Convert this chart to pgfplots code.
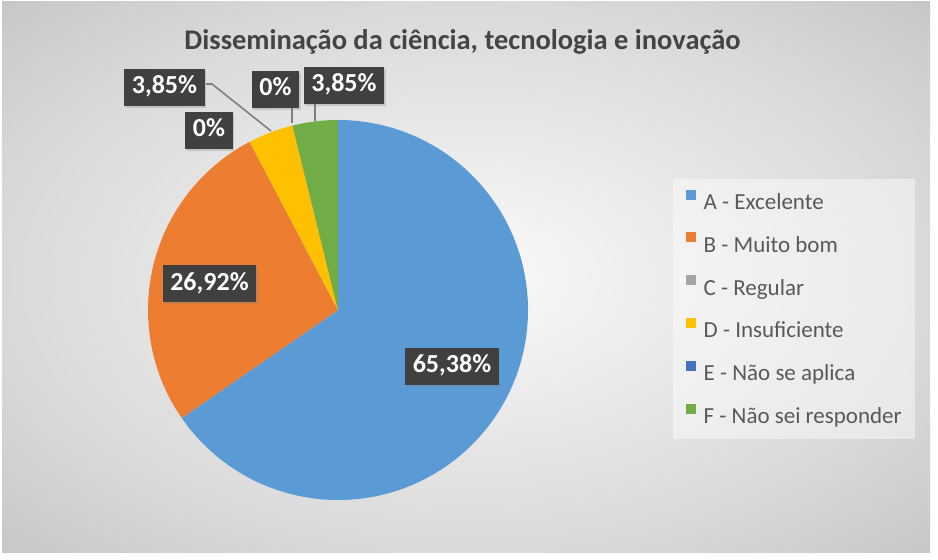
\documentclass[border=0pt]{standalone}
\usepackage{pgfplots}
\pgfplotsset{compat=1.18}
\usepackage{pgfplotstable}
\usepackage{fontspec}
\setmainfont{Carlito}
\usetikzlibrary{shadows}

\definecolor{c0}{HTML}{5B9BD5}
\definecolor{c1}{HTML}{ED7D31}
\definecolor{c2}{HTML}{A5A5A5}
\definecolor{c3}{HTML}{FFC000}
\definecolor{c4}{HTML}{4472C4}
\definecolor{c5}{HTML}{70AD47}
\definecolor{txt}{HTML}{595959}
\definecolor{ttl}{HTML}{444444}
\definecolor{lblbg}{HTML}{404040}
\definecolor{lead}{HTML}{7F7F7F}
\definecolor{bgA}{HTML}{FAFAFA}
\definecolor{bgB}{HTML}{D9D9D9}
\definecolor{bgC}{HTML}{C6C6C6}
\pgfdeclareradialshading{bgshade}{\pgfpoint{0bp}{0bp}}{color(0bp)=(bgA); color(25bp)=(bgB); color(36bp)=(bgC); color(50bp)=(bgC)}

% percentages, clockwise from 12 o'clock
\pgfplotstableread{
cat value
A 65.38
B 26.92
C 0
D 3.85
E 0
F 3.85
}\piedata

\def\cumul{0}
\pgfplotsforeachungrouped \i in {0,...,5}{%
  \pgfplotstablegetelem{\i}{value}\of\piedata
  \pgfmathsetmacro\startang{90-3.6*\cumul}%
  \pgfmathsetmacro\cumul{\cumul+\pgfplotsretval}%
  \pgfmathsetmacro\endang{90-3.6*\cumul}%
  \global\expandafter\let\csname sa\i\endcsname\startang
  \global\expandafter\let\csname sb\i\endcsname\endang
}

\newcommand\titlefont{\fontsize{8.1pt}{9.7pt}\selectfont\bfseries}
\newcommand\legfont{\fontsize{6.54pt}{7.8pt}\selectfont}

\begin{document}
\begin{tikzpicture}[
  lbl/.style={fill=lblbg, text=white, font=\bfseries\fontsize{7.4pt}{8.9pt}\selectfont,
    inner xsep=0.075cm, inner ysep=0.08cm, text height=0.17cm, text depth=0.04cm,
    drop shadow={shadow xshift=0.015cm, shadow yshift=-0.02cm, opacity=0.3}}]
\begin{axis}[
  scale only axis, width=9.38cm, height=5.59cm,
  xmin=0, xmax=938, ymin=0, ymax=559,
  hide axis, clip=false,
  legend style={at={(0.7164,0.6816)}, anchor=north west, draw=none,
    fill=white, fill opacity=0.45, text opacity=1,
    inner xsep=0.13cm, inner ysep=0.02cm, row sep=0pt, column sep=0.08cm,
    font=\legfont, text=txt,
    nodes={inner sep=0pt, text height=0.288cm, text depth=0.14cm}},
  legend cell align=left,
  legend image code/.code={\fill[#1, draw=none, fill opacity=1] (0cm,0.024cm) rectangle (0.1cm,0.124cm);},
]
\path (axis cs:0,0) rectangle (axis cs:938,559);
\shade[shading=bgshade] (axis cs:2,7) rectangle (axis cs:930,557);

\pgfplotsinvokeforeach{0,...,5}{%
  \edef\tmp{\noexpand\fill[c#1] (axis cs:338,249) -- ++(\csname sa#1\endcsname:1.9cm)
    arc[start angle=\csname sa#1\endcsname, end angle=\csname sb#1\endcsname, radius=1.9cm] -- cycle;}%
  \tmp
}

\draw[lead, line width=0.45pt] (axis cs:206,475) -- (axis cs:212,475) -- (axis cs:271,428);
\draw[lead, line width=0.45pt] (axis cs:292,451) -- (axis cs:292,436);
\draw[lead, line width=0.45pt] (axis cs:315,455) -- (axis cs:315,438);

\node[lbl] at (axis cs:452,193) {65,38\%};
\node[lbl] at (axis cs:209.5,275.5) {26,92\%};
\node[lbl] at (axis cs:209,429) {0\%};
\node[lbl] at (axis cs:164.5,472) {3,85\%};
\node[lbl] at (axis cs:275.5,470) {0\%};
\node[lbl] at (axis cs:344,474) {3,85\%};

\node[font=\titlefont, text=ttl] at (axis cs:462.5,517) {Disseminação da ciência, tecnologia e inovação};

\addlegendimage{fill=c0}\addlegendentry{A - Excelente}
\addlegendimage{fill=c1}\addlegendentry{B - Muito bom}
\addlegendimage{fill=c2}\addlegendentry{C - Regular}
\addlegendimage{fill=c3}\addlegendentry{D - Insuficiente}
\addlegendimage{fill=c4}\addlegendentry{E - Não se aplica}
\addlegendimage{fill=c5}\addlegendentry{F - Não sei responder}
\end{axis}
\end{tikzpicture}
\end{document}
